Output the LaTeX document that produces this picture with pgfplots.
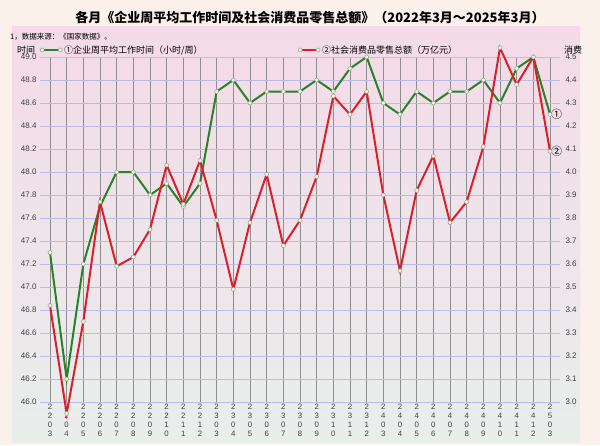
\documentclass[border=0pt]{standalone}
\usepackage{fontspec}
\setmainfont{Noto Sans CJK SC}
\newfontfamily\numfont{Liberation Sans}
\usepackage{pgfplots}
\pgfplotsset{compat=1.18}

\definecolor{bgout}{HTML}{FBF1EA}
\definecolor{paneltop}{HTML}{F4DAE8}
\definecolor{panelbot}{HTML}{E9EEEC}
\definecolor{gridlight}{HTML}{BDBBEA}
\definecolor{griddark}{HTML}{8482D6}
\definecolor{gridv}{HTML}{8E8E8E}
\definecolor{hoursgreen}{HTML}{2A8228}
\definecolor{salesred}{HTML}{D8202A}
\definecolor{markfill}{HTML}{EEF2E4}
\definecolor{markdraw}{HTML}{8FA88F}
\definecolor{labelgray}{HTML}{404040}

\newcommand\st[4]{#1\\#2\\#3\\#4}

\pgfplotsset{
  common/.style={
    at={(40pt,43pt)}, anchor=south west,
    scale only axis, width=520pt, height=345pt,
    xmin=-0.6, xmax=30.6,
    clip=false,
    axis line style={draw=none},
    major tick length=0pt,
    tick label style={font=\numfont\fontsize{8}{9}\selectfont, text=labelgray},
    /pgf/number format/.cd, fixed, fixed zerofill, precision=1, assume math mode=true,
  },
  legend image code/.code={
    \draw[mark repeat=2, mark phase=1, #1] plot coordinates {(0pt,0pt) (9pt,0pt) (18pt,0pt)};
  },
  series/.style={line width=2pt, mark=*, mark size=2pt,
    mark options={fill=markfill, draw=markdraw, line width=0.5pt, solid}},
}

\begin{document}
\begin{tikzpicture}[x=1pt,y=1pt]
\fill[bgout] (0,0) rectangle (600,445);
\shade[top color=paneltop, bottom color=panelbot] (12,3) rectangle (580,418);
\node[font=\fontsize{13}{15}\selectfont\bfseries] at (310,427)
  {各月《企业周平均工作时间及社会消费品零售总额》（2022年3月～2025年3月）};
\node[anchor=west, font=\fontsize{7.5}{9}\selectfont, inner sep=0] at (10,408)
  {1，数据来源：《国家数据》。};
\node[anchor=west, font=\fontsize{9}{10}\selectfont, inner sep=0] at (17,395) {时间};
\node[anchor=west, font=\fontsize{9}{10}\selectfont, inner sep=0] at (564,395) {消费};

\begin{axis}[common,
  ymin=46, ymax=49,
  ytick={46.0,46.2,46.4,46.6,46.8,47.0,47.2,47.4,47.6,47.8,48.0,48.2,48.4,48.6,48.8,49.0},
  ytick pos=left, xtick pos=bottom,
  xtick={0,...,30},
  xticklabels={\st2203,\st2204,\st2205,\st2206,\st2207,\st2208,\st2209,\st2210,\st2211,\st2212,
    \st2303,\st2304,\st2305,\st2306,\st2307,\st2308,\st2309,\st2310,\st2311,\st2312,
    \st2403,\st2404,\st2405,\st2406,\st2407,\st2408,\st2409,\st2410,\st2411,\st2412,\st2503},
  xticklabel style={align=center, font=\numfont\fontsize{7.8}{9.2}\selectfont, inner sep=1.5pt},
  xmajorgrids, ymajorgrids,
  major x grid style={draw=gridv, line width=0.7pt},
  major y grid style={draw=gridlight, line width=0.7pt},
  extra y ticks={46.2,46.6,47.0,47.4,47.8,48.2,48.6,49.0},
  extra y tick labels={},
  extra y tick style={grid=major, major grid style={draw=griddark, line width=0.7pt}},
  legend style={at={(0,1.0203)}, anchor=west, draw=none, fill=none, inner sep=0pt,
    font=\fontsize{9}{10}\selectfont},
]
\addplot[series, hoursgreen] coordinates {
  (0,47.3) (1,46.2) (2,47.2) (3,47.7) (4,48.0) (5,48.0) (6,47.8) (7,47.9) (8,47.7) (9,47.9)
  (10,48.7) (11,48.8) (12,48.6) (13,48.7) (14,48.7) (15,48.7) (16,48.8) (17,48.7) (18,48.9) (19,49.0)
  (20,48.6) (21,48.5) (22,48.7) (23,48.6) (24,48.7) (25,48.7) (26,48.8) (27,48.6) (28,48.9) (29,49.0)
  (30,48.5)
};
\addlegendentry{①企业周平均工作时间（小时/周）}
\node[anchor=west, inner sep=1pt, font=\fontsize{11}{12}\selectfont] at (axis cs:30,48.5) {①};
\end{axis}

\begin{axis}[common,
  ymin=3.0, ymax=4.5,
  axis y line*=right, hide x axis,
  ytick={3.0,3.1,3.2,3.3,3.4,3.5,3.6,3.7,3.8,3.9,4.0,4.1,4.2,4.3,4.4,4.5},
  yticklabel style={xshift=2pt},
  legend style={at={(0.496,1.0203)}, anchor=west, draw=none, fill=none, inner sep=0pt,
    font=\fontsize{9}{10}\selectfont},
]
\addplot[series, salesred] coordinates {
  (0,3.42) (1,2.95) (2,3.35) (3,3.87) (4,3.59) (5,3.63) (6,3.75) (7,4.03) (8,3.86) (9,4.05)
  (10,3.79) (11,3.49) (12,3.78) (13,3.99) (14,3.68) (15,3.79) (16,3.98) (17,4.33) (18,4.25) (19,4.35)
  (20,3.90) (21,3.57) (22,3.92) (23,4.07) (24,3.78) (25,3.87) (26,4.11) (27,4.54) (28,4.38) (29,4.50)
  (30,4.09)
};
\addlegendentry{②社会消费品零售总额（万亿元）}
\node[anchor=west, inner sep=1pt, font=\fontsize{11}{12}\selectfont] at (axis cs:30,4.09) {②};
\end{axis}
\end{tikzpicture}
\end{document}
